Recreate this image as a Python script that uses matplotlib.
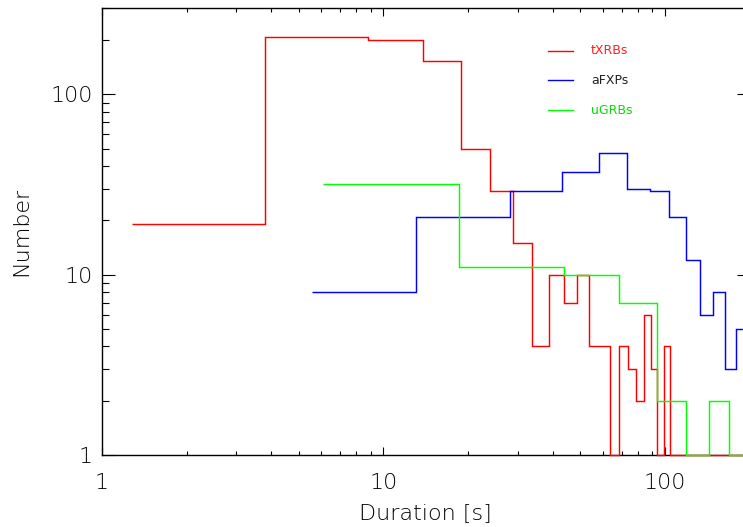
import matplotlib
matplotlib.use("Agg")
import matplotlib.pyplot as plt
import numpy as np

# histogram bin edges (s) and counts
red_edges = [1.28, 3.8, 8.8, 13.8, 18.8, 23.8, 28.8, 33.8, 38.8, 43.8, 48.8, 53.8,
             58.8, 63.8, 68.8, 73.8, 78.8, 83.8, 88.8, 93.8, 98.8, 103.8, 200]
red_counts = [19, 209, 201, 154, 50, 29, 15, 4, 10, 7, 10, 4,
              4, 0, 4, 3, 2, 6, 3, 0, 4, 0]

blue_edges = [5.6, 13.1, 28.1, 43.1, 58.1, 73.1, 88.1, 103.1, 118.1, 133.1, 148.1, 163.1, 178.1, 200]
blue_counts = [8, 21, 29, 37, 47, 30, 29, 21, 12, 6, 8, 3, 5]

green_edges = [6.1, 18.6, 43.6, 68.6, 93.6, 118.6, 143.6, 168.6, 200]
green_counts = [32, 11, 10, 7, 2, 0, 2, 0]

names = ["tXRBs", "aFXPs", "uGRBs"]
line_colors = ["#ff0000", "#0000ff", "#00ff00"]
text_colors = ["#ff2020", "#202020", "#00e000"]

xlim = (1, 200)
ylim = (1, 300)

fig = plt.figure(figsize=(7.43, 5.27), dpi=100)
ax = fig.add_axes([101.7 / 743, 72 / 527, 648.3 / 743, 446.7 / 527])

series = [(red_edges, red_counts), (blue_edges, blue_counts), (green_edges, green_counts)]
for (edges, counts), c in zip(series, line_colors):
    # empty bins sit on the bottom axis (log scale floor)
    vals = np.clip(np.array(counts, dtype=float), ylim[0], None)
    ax.stairs(vals, edges, baseline=None, color=c, lw=1.05, zorder=3, clip_on=False)

ax.set_xscale("log")
ax.set_yscale("log")
ax.set_xlim(*xlim)
ax.set_ylim(*ylim)

ax.set_xticks([1, 10, 100])
ax.set_xticklabels(["1", "10", "100"])
ax.set_yticks([1, 10, 100])
ax.set_yticklabels(["1", "10", "100"])

ax.tick_params(axis="x", which="major", direction="in", length=6, width=0.8,
               top=True, pad=13, labelsize=16, labelcolor="black")
ax.tick_params(axis="x", which="minor", direction="in", length=3, width=0.8, top=True)
ax.tick_params(axis="y", which="major", direction="in", length=9.5, width=0.8,
               right=True, pad=6.5, labelsize=16, labelcolor="black")
ax.tick_params(axis="y", which="minor", direction="in", length=4.7, width=0.8, right=True)
for lab in ax.get_xticklabels() + ax.get_yticklabels():
    lab.set_fontweight("light")
for s in ax.spines.values():
    s.set_linewidth(1.0)

ax.set_xlabel("Duration [s]", fontsize=16, fontweight="light", labelpad=7, color="black")
ax.set_ylabel("Number", fontsize=16, fontweight="light", labelpad=14, color="black")

# legend drawn by hand
ys = [0.905, 0.839, 0.772]
for name, lc, tc, y in zip(names, line_colors, text_colors, ys):
    ax.plot([0.688, 0.727], [y, y], color=lc, lw=1.0, transform=ax.transAxes)
    ax.text(0.755, y, name, color=tc, fontsize=9, va="center", ha="left",
            transform=ax.transAxes)

fig.savefig("out.png", dpi=100)
